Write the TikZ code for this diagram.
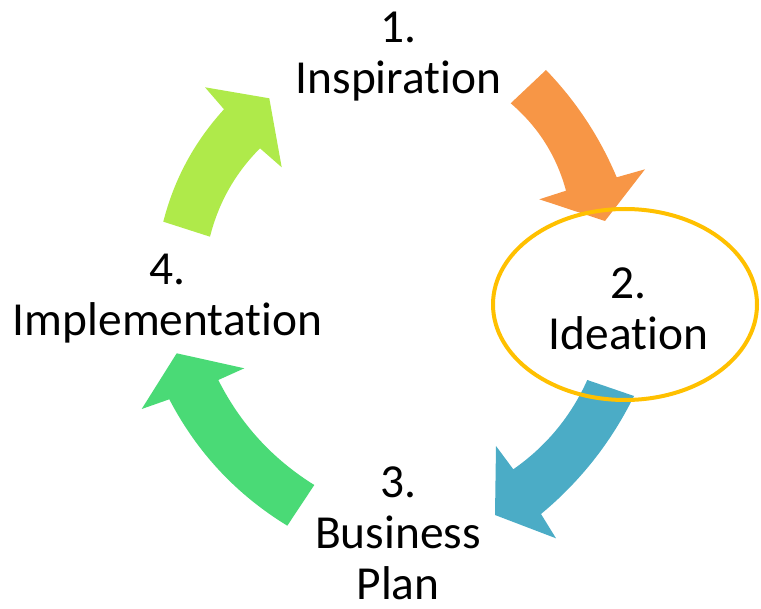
\documentclass[tikz,border=0pt]{standalone}
\usepackage{fontspec}
\setmainfont{Carlito}[Ligatures=NoCommon]
\usepackage{tikz}

\definecolor{arrOrange}{HTML}{F79646}
\definecolor{arrBlue}{HTML}{4BACC6}
\definecolor{arrGreen}{HTML}{4ADA76}
\definecolor{arrLime}{HTML}{AFEA4A}
\definecolor{ringGold}{HTML}{FFC000}

\begin{document}
\begin{tikzpicture}[x=0.5pt,y=-0.5pt,
	stage/.style={align=center,inner sep=0pt,anchor=north,font=\fontsize{23.7}{25.5}\selectfont},
	ring/.style={draw=ringGold,line width=2pt}]
		\useasboundingbox (0,0) rectangle (761,609);
		% curved arrows of the cycle
		\fill[arrOrange] (510.7,103.3) -- (546,70) .. controls (576.3,101.4) and (599.8,137.1) .. (616.7,177.3) -- (645,169.3) -- (605,221) -- (539.3,199.3) -- (566,190.7) .. controls (556.6,155.9) and (538.1,126.7) .. (510.7,103.3) -- cycle;
		\fill[arrBlue] (587.3,380) -- (634,396) .. controls (611.4,441.9) and (580.4,481.3) .. (541,514) -- (556,538.3) -- (495,515) -- (496,446) -- (513.3,469.3) .. controls (546.2,446.3) and (570.8,416.6) .. (587.3,380) -- cycle;
		\fill[arrGreen] (314.3,485) -- (287.3,525.7) .. controls (236.3,494.5) and (196.9,452.3) .. (169.3,399.3) -- (141.7,409) -- (176.7,353.3) -- (244.3,368.3) -- (218.3,380) .. controls (240.5,424) and (272.5,459) .. (314.3,485) -- cycle;
		\fill[arrLime] (210,236.7) -- (163.3,221.7) .. controls (174.1,179.2) and (194.4,141.7) .. (224,109.3) -- (205,87.3) -- (269.3,98.3) -- (281.7,167.3) -- (260,148.3) .. controls (235.2,173.2) and (218.6,202.6) .. (210,236.7) -- cycle;
		% highlight round step 2
		\draw[ring] (625,304.5) ellipse [x radius=132, y radius=95.5];
		% labels
		\node[stage] (insp) at (398.5,12) {1.\\Inspiration};
		\node[stage] (idea) at (628.5,267) {2.\\Ideation};
		\node[stage] (plan) at (398,466) {3.\\Business\\Plan};
		\node[stage] (impl) at (167.5,254) {4.\\Implementation};
\end{tikzpicture}
\end{document}
